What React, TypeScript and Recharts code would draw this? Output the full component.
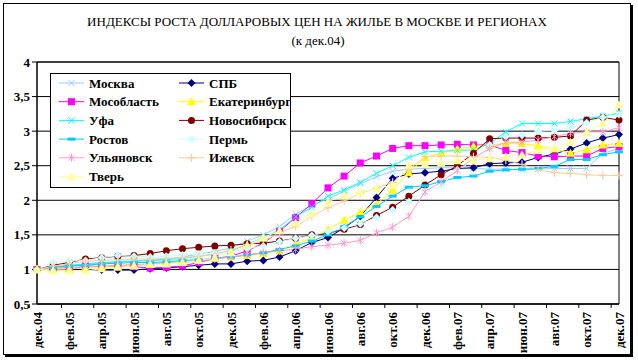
import React from 'react';
import { LineChart, Line, XAxis, YAxis, CartesianGrid, ReferenceArea, Legend } from 'recharts';

const categories = [
  'дек.04', 'янв.05', 'фев.05', 'мар.05', 'апр.05', 'май.05', 'июн.05', 'июл.05', 'авг.05', 'сен.05', 'окт.05', 'ноя.05',
  'дек.05', 'янв.06', 'фев.06', 'мар.06', 'апр.06', 'май.06', 'июн.06', 'июл.06', 'авг.06', 'сен.06', 'окт.06', 'ноя.06',
  'дек.06', 'янв.07', 'фев.07', 'мар.07', 'апр.07', 'май.07', 'июн.07', 'июл.07', 'авг.07', 'сен.07', 'окт.07', 'ноя.07',
  'дек.07',
];

const yTicks = [0.5, 1, 1.5, 2, 2.5, 3, 3.5, 4];

const moskva = [1.00, 1.03, 1.05, 1.07, 1.09, 1.11, 1.12, 1.13, 1.15, 1.18, 1.22, 1.26, 1.31, 1.41, 1.50, 1.62, 1.80, 1.93, 2.02, 2.13, 2.24, 2.34, 2.42, 2.45, 2.46, 2.47, 2.47, 2.46, 2.45, 2.45, 2.44, 2.45, 2.46, 2.46, 2.46, 2.68, 2.75];
const spb = [1.00, 1.00, 1.00, 1.00, 0.99, 0.99, 0.99, 1.01, 1.02, 1.04, 1.06, 1.08, 1.08, 1.12, 1.13, 1.18, 1.27, 1.39, 1.46, 1.60, 1.77, 2.04, 2.32, 2.38, 2.40, 2.42, 2.46, 2.47, 2.53, 2.54, 2.55, 2.62, 2.67, 2.74, 2.83, 2.90, 2.95];
const mosobl = [1.00, 0.99, 1.00, 1.05, 1.04, 1.05, 1.04, 1.02, 1.03, 1.05, 1.10, 1.16, 1.19, 1.27, 1.38, 1.55, 1.75, 1.95, 2.18, 2.35, 2.54, 2.64, 2.75, 2.79, 2.79, 2.80, 2.81, 2.80, 2.80, 2.72, 2.69, 2.64, 2.63, 2.64, 2.64, 2.75, 2.78];
const ekb = [1.00, 1.00, 1.01, 1.03, 1.04, 1.05, 1.06, 1.08, 1.10, 1.12, 1.14, 1.16, 1.18, 1.20, 1.23, 1.27, 1.36, 1.46, 1.58, 1.71, 1.83, 1.94, 2.15, 2.40, 2.62, 2.68, 2.74, 2.78, 2.80, 2.82, 2.82, 2.79, 2.74, 2.68, 2.73, 2.80, 2.82];
const ufa = [1.00, 1.04, 1.06, 1.08, 1.10, 1.11, 1.12, 1.13, 1.14, 1.16, 1.19, 1.22, 1.27, 1.36, 1.46, 1.57, 1.76, 1.90, 2.06, 2.15, 2.26, 2.39, 2.50, 2.62, 2.70, 2.71, 2.72, 2.73, 2.82, 2.99, 3.11, 3.11, 3.11, 3.14, 3.18, 3.22, 3.26];
const novosib = [1.00, 1.06, 1.10, 1.15, 1.17, 1.19, 1.20, 1.23, 1.27, 1.30, 1.32, 1.34, 1.35, 1.37, 1.38, 1.41, 1.45, 1.50, 1.52, 1.58, 1.65, 1.78, 1.90, 2.06, 2.22, 2.37, 2.50, 2.68, 2.89, 2.90, 2.90, 2.90, 2.91, 2.93, 3.16, 3.20, 3.16];
const rostov = [1.00, 1.03, 1.05, 1.06, 1.08, 1.09, 1.10, 1.10, 1.11, 1.13, 1.14, 1.16, 1.18, 1.21, 1.24, 1.29, 1.34, 1.41, 1.50, 1.62, 1.76, 1.91, 2.06, 2.19, 2.21, 2.27, 2.33, 2.35, 2.42, 2.44, 2.45, 2.46, 2.49, 2.59, 2.59, 2.66, 2.70];
const perm = [1.00, 1.10, 1.12, 1.13, 1.17, 1.20, 1.19, 1.18, 1.19, 1.21, 1.22, 1.23, 1.25, 1.30, 1.34, 1.40, 1.45, 1.49, 1.55, 1.60, 1.66, 1.75, 1.86, 1.98, 2.13, 2.21, 2.44, 2.57, 2.80, 2.92, 2.94, 3.00, 3.01, 3.05, 3.12, 3.20, 3.24];
const ulyan = [1.00, 1.02, 1.03, 1.04, 1.05, 1.06, 1.07, 1.08, 1.09, 1.10, 1.12, 1.15, 1.18, 1.21, 1.24, 1.27, 1.29, 1.33, 1.35, 1.38, 1.42, 1.53, 1.61, 1.77, 2.12, 2.27, 2.43, 2.61, 2.75, 2.84, 2.84, 2.87, 2.92, 2.97, 2.99, 2.99, 3.05];
const izhevsk = [1.00, 1.05, 1.08, 1.12, 1.13, 1.14, 1.15, 1.15, 1.16, 1.17, 1.19, 1.22, 1.28, 1.36, 1.41, 1.53, 1.62, 1.77, 1.89, 1.99, 2.10, 2.18, 2.26, 2.45, 2.63, 2.64, 2.64, 2.63, 2.62, 2.58, 2.52, 2.44, 2.40, 2.39, 2.37, 2.36, 2.36];
const tver = [1.00, 0.98, 0.98, 0.98, 1.01, 1.03, 1.05, 1.07, 1.08, 1.10, 1.13, 1.17, 1.24, 1.35, 1.46, 1.56, 1.67, 1.81, 1.98, 2.07, 2.12, 2.17, 2.22, 2.51, 2.52, 2.54, 2.57, 2.58, 2.60, 2.63, 2.66, 2.72, 2.76, 2.84, 2.98, 3.11, 3.38];

const seriesNames = ['Москва', 'СПБ', 'Мособласть', 'Екатеринбург', 'Уфа', 'Новосибирск', 'Ростов', 'Пермь', 'Ульяновск', 'Ижевск', 'Тверь'];
const seriesValues = [moskva, spb, mosobl, ekb, ufa, novosib, rostov, perm, ulyan, izhevsk, tver];

// styles (kept apart from the data)
const seriesColors = ['#99CCFF', '#000080', '#FF00FF', '#FFFF00', '#00FFFF', '#800000', '#00CCFF', '#CCFFFF', '#FF99CC', '#FFCC99', '#FFFF99'];
const seriesShapes = ['x', 'diamond', 'square', 'triangle', 'x', 'circle', 'dash', 'diamond', 'star', 'plus', 'triangle'];

const title = 'ИНДЕКСЫ РОСТА ДОЛЛАРОВЫХ ЦЕН НА ЖИЛЬЕ В МОСКВЕ И РЕГИОНАХ';
const subtitle = '(к дек.04)';

const data = categories.map((cat, i) => {
  const row: Record<string, any> = { cat };
  seriesValues.forEach((vals, s) => {
    row['s' + s] = vals[i];
  });
  return row;
});

const FONT = 'Liberation Serif, DejaVu Serif, serif';
const W = 638;
const H = 362;
const M_TOP = 62;
const M_RIGHT = 19;
const Y_W = 37;
const X_H = 58;
const PLOT_L = Y_W;
const PLOT_R = W - M_RIGHT;

function MarkerShape({ shape, color, cx, cy }: { shape: string; color: string; cx: number; cy: number }) {
  switch (shape) {
    case 'diamond':
      return <polygon points={`${cx},${cy - 4} ${cx + 4},${cy} ${cx},${cy + 4} ${cx - 4},${cy}`} fill={color} />;
    case 'square':
      return <rect x={cx - 3.5} y={cy - 3.5} width={7} height={7} fill={color} />;
    case 'triangle':
      return <polygon points={`${cx},${cy - 4.5} ${cx + 4.5},${cy + 3.5} ${cx - 4.5},${cy + 3.5}`} fill={color} />;
    case 'circle':
      return <circle cx={cx} cy={cy} r={3.5} fill={color} />;
    case 'x':
      return <path d={`M${cx - 3},${cy - 3}L${cx + 3},${cy + 3}M${cx - 3},${cy + 3}L${cx + 3},${cy - 3}`} stroke={color} strokeWidth={1} fill="none" />;
    case 'star':
      return <path d={`M${cx - 3},${cy - 3}L${cx + 3},${cy + 3}M${cx - 3},${cy + 3}L${cx + 3},${cy - 3}M${cx},${cy - 4}L${cx},${cy + 4}`} stroke={color} strokeWidth={1} fill="none" />;
    case 'plus':
      return <path d={`M${cx - 4},${cy}L${cx + 4},${cy}M${cx},${cy - 4}L${cx},${cy + 4}`} stroke={color} strokeWidth={1.2} fill="none" />;
    case 'dash':
      return <rect x={cx - 4} y={cy - 1.5} width={8} height={3} fill={color} />;
    default:
      return null;
  }
}

const makeDot = (shape: string, color: string) => (props: any) => {
  const { cx, cy, index } = props;
  if (cx == null || cy == null || isNaN(cx) || isNaN(cy)) return <g key={`e-${shape}-${index}`} />;
  return (
    <g key={`d-${shape}-${color}-${index}`}>
      <MarkerShape shape={shape} color={color} cx={cx} cy={cy} />
    </g>
  );
};

const XTick = (props: any) => {
  const { x, y, payload, index } = props;
  const idx = payload && payload.index != null ? payload.index : index;
  const bw = (PLOT_R - PLOT_L) / categories.length;
  const axisY = y - 6;
  if (idx % 2 !== 0) return <g />;
  const tx = x - bw / 2;
  return (
    <g>
      <line x1={tx} y1={axisY} x2={tx} y2={axisY + 4} stroke="#000" strokeWidth={1} />
      <text
        x={x}
        y={y + 2}
        transform={`rotate(-90 ${x} ${y + 2})`}
        textAnchor="end"
        dy="0.35em"
        style={{ fontFamily: FONT, fontSize: 13, fontWeight: 'bold' }}
        fill="#000"
      >
        {payload.value}
      </text>
    </g>
  );
};

const LegendBox = () => {
  const colW = 120;
  const rowH = 18.7;
  return (
    <svg width={241} height={115} style={{ display: 'block' }}>
      <rect x={0.5} y={0.5} width={240} height={114} fill="#fff" stroke="#000" strokeWidth={1} />
      {seriesNames.map((name, i) => {
        const col = i % 2;
        const row = Math.floor(i / 2);
        const lx = 9 + col * colW;
        const cy = 10 + row * rowH;
        const color = seriesColors[i];
        return (
          <g key={name}>
            <line x1={lx} y1={cy} x2={lx + 25} y2={cy} stroke={color} strokeWidth={1} />
            <MarkerShape shape={seriesShapes[i]} color={color} cx={lx + 12.5} cy={cy} />
            <text x={lx + 30} y={cy} dy="0.35em" style={{ fontFamily: FONT, fontSize: 13, fontWeight: 'bold' }} fill="#000">
              {name}
            </text>
          </g>
        );
      })}
    </svg>
  );
};

export default function App() {
  return (
    <div style={{ position: 'absolute', left: 0, top: 0, width: W, height: H, background: '#fff', fontFamily: FONT }}>
      <div
        style={{
          position: 'absolute',
          left: 3,
          top: 3,
          width: 628,
          height: 352,
          border: '1px solid #000',
          boxSizing: 'border-box',
          boxShadow: '2px 2px 0 #000',
        }}
      />
      <div
        style={{
          position: 'absolute',
          left: 0,
          width: W - 4,
          top: 14,
          textAlign: 'center',
          fontSize: 13,
          lineHeight: '16px',
          color: '#000',
          fontFamily: FONT,
        }}
      >
        {title}
      </div>
      <div
        style={{
          position: 'absolute',
          left: 0,
          width: W - 2,
          top: 33,
          textAlign: 'center',
          fontSize: 13,
          lineHeight: '16px',
          color: '#000',
          fontFamily: FONT,
        }}
      >
        {subtitle}
      </div>
      <div style={{ position: 'absolute', left: 0, top: 0 }}>
        <LineChart width={W} height={H} data={data} margin={{ top: M_TOP, right: M_RIGHT, bottom: 0, left: 0 }}>
          <CartesianGrid vertical={false} stroke="#000" strokeWidth={1} />
          <ReferenceArea y1={0.5} y2={4} fill="none" stroke="#000" strokeWidth={1} ifOverflow="visible" />
          <XAxis
            dataKey="cat"
            interval={0}
            height={X_H}
            tick={<XTick />}
            tickLine={false}
            tickSize={4}
            tickMargin={2}
            axisLine={{ stroke: '#000', strokeWidth: 1 }}
          />
          <YAxis
            width={Y_W}
            domain={[0.5, 4]}
            ticks={yTicks}
            interval={0}
            allowDataOverflow
            tickFormatter={(v: number) => String(v).replace('.', ',')}
            tick={{ fill: '#000', fontSize: 13, fontWeight: 'bold', style: { fontFamily: FONT } }}
            tickLine={{ stroke: '#000' }}
            tickSize={5}
            tickMargin={2}
            axisLine={{ stroke: '#000', strokeWidth: 1 }}
          />
          <Legend
            layout="horizontal"
            verticalAlign="middle"
            align="center"
            content={() => <LegendBox />}
            wrapperStyle={{ position: 'absolute', left: 50, top: 73, width: 241, height: 115 }}
          />
          {seriesNames.map((name, s) => (
            <Line
              key={name}
              type="linear"
              dataKey={'s' + s}
              name={name}
              stroke={seriesColors[s]}
              strokeWidth={1}
              dot={makeDot(seriesShapes[s], seriesColors[s])}
              activeDot={false}
              isAnimationActive={false}
            />
          ))}
        </LineChart>
      </div>
    </div>
  );
}
